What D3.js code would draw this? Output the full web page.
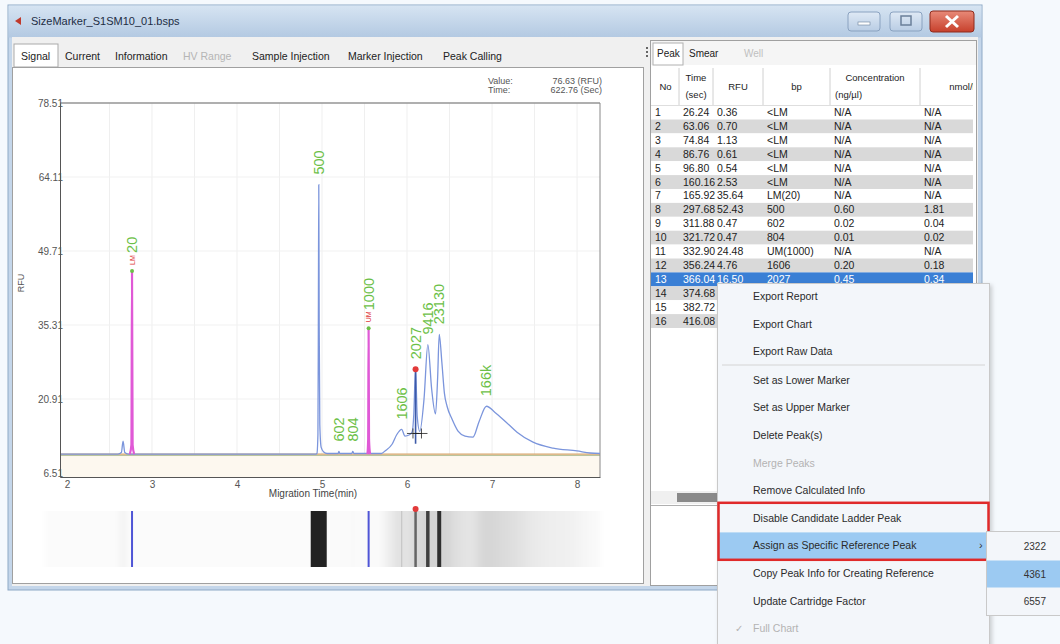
<!DOCTYPE html>
<html><head><meta charset="utf-8">
<script src="https://cdn.jsdelivr.net/npm/d3@7"></script>
<style>
body{margin:0;background:#f5f9fd;}
svg{display:block;font-family:"Liberation Sans",Arial,sans-serif;}
</style></head>
<body><svg id="c" width="1060" height="644"></svg>
<script>
// ---------------- data ----------------
const windowTitle = "SizeMarker_S1SM10_01.bsps";
const leftTabs = ["Signal","Current","Information","HV Range","Sample Injection","Marker Injection","Peak Calling"];
const rightTabs = ["Peak","Smear","Well"];
const yTicks = [6.51, 20.91, 35.31, 49.71, 64.11, 78.51];
const xTicks = [2, 3, 4, 5, 6, 7, 8];
const baselineRFU = 10.2;
const cursorValue = "76.63 (RFU)", cursorTime = "622.76 (Sec)";

// sample signal (blue) : migration time (min) / RFU
const traceTime = [1.92,2.60,2.64,2.66,2.68,2.72,4.93,4.94,4.952,4.957,4.962,4.967,4.974,4.99,5.02,5.06,5.19,5.198,5.21,5.35,5.362,5.375,5.70,5.741,5.824,5.88,5.937,5.976,6.024,6.06,6.08,6.10,6.12,6.15,6.20,6.245,6.29,6.335,6.36,6.379,6.41,6.44,6.471,6.529,6.60,6.682,6.776,6.847,6.935,7.035,7.153,7.294,7.482,7.718,8.0,8.153,8.27];
const traceRFU  = [10.2,10.2,10.5,12.7,10.5,10.2,10.2,10.3,14.0,35.0,62.6,35.0,16.0,11.5,10.6,10.3,10.3,10.7,10.3,10.3,10.7,10.3,10.3,10.8,12.1,14.0,15.0,13.7,13.9,14.5,18.0,26.7,17.5,14.6,20.9,31.5,22.8,18.0,25.0,33.5,28.0,22.0,19.5,17.0,14.65,13.7,13.5,16.5,19.5,18.3,16.6,14.45,12.5,11.35,10.8,10.4,10.3];

// marker signal (pink), null separates the two marker peaks
const markerTime = [2.74,2.758,2.765,2.772,2.79,null,5.535,5.543,5.548,5.553,5.565];
const markerRFU  = [10.2,12.0,45.8,12.0,10.2,null,10.2,13.0,34.7,13.0,10.2];

// peak table
const peakNo   = [1,2,3,4,5,6,7,8,9,10,11,12,13,14,15,16];
const peakTime = ["26.24","63.06","74.84","86.76","96.80","160.16","165.92","297.68","311.88","321.72","332.90","356.24","366.04","374.68","382.72","416.08"];
const peakRFU  = ["0.36","0.70","1.13","0.61","0.54","2.53","35.64","52.43","0.47","0.47","24.48","4.76","16.50","21.30","23.30","9.30"];
const peakBp   = ["<LM","<LM","<LM","<LM","<LM","<LM","LM(20)","500","602","804","UM(1000)","1606","2027","9416","23130","166k"];
const peakConc = ["N/A","N/A","N/A","N/A","N/A","N/A","N/A","0.60","0.02","0.01","N/A","0.20","0.45","0.88","0.95","N/A"];
const peakNmol = ["N/A","N/A","N/A","N/A","N/A","N/A","N/A","1.81","0.04","0.02","N/A","0.18","0.34","0.14","0.06","N/A"];
const selectedPeak = 13;
const selectedBounds = [6.07, 6.17];
const selectedBoundRFU = 14.2;

const menuItems = ["Export Report","Export Chart","Export Raw Data","Set as Lower Marker","Set as Upper Marker","Delete Peak(s)","Merge Peaks","Remove Calculated Info","Disable Candidate Ladder Peak","Assign as Specific Reference Peak","Copy Peak Info for Creating Reference","Update Cartridge Factor","Full Chart"];
const menuDisabled = ["Merge Peaks","Full Chart"];
const subItems = ["2322","4361","6557"];

// ---------------- drawing ----------------
const svg = d3.select("#c");
const defs = svg.append("defs");
const g1 = defs.append("linearGradient").attr("id","title").attr("x1",0).attr("y1",0).attr("x2",0).attr("y2",1);
g1.append("stop").attr("offset",0).attr("stop-color","#d6e4f2");
g1.append("stop").attr("offset",1).attr("stop-color","#b3c9e2");
const g2 = defs.append("linearGradient").attr("id","close").attr("x1",0).attr("y1",0).attr("x2",0).attr("y2",1);
g2.append("stop").attr("offset",0).attr("stop-color","#e88a78");
g2.append("stop").attr("offset",1).attr("stop-color","#c7402c");
const g3 = defs.append("linearGradient").attr("id","btn").attr("x1",0).attr("y1",0).attr("x2",0).attr("y2",1);
g3.append("stop").attr("offset",0).attr("stop-color","#dfe9f5");
g3.append("stop").attr("offset",1).attr("stop-color","#b9cde4");
defs.append("filter").attr("id","blur").attr("x","-5%").attr("width","110%")
  .append("feGaussianBlur").attr("stdDeviation","3 0");
defs.append("filter").attr("id","shadow").append("feDropShadow")
  .attr("dx",2).attr("dy",2).attr("stdDeviation",2).attr("flood-color","#000").attr("flood-opacity",0.18);

svg.append("rect").attr("width",1060).attr("height",644).attr("fill","#f5f9fd");

// window frame
svg.append("rect").attr("x",8).attr("y",5).attr("width",974).attr("height",585).attr("fill","#c4d6ea").attr("stroke","#8ea9c6");
svg.append("rect").attr("x",8.5).attr("y",5.5).attr("width",973).attr("height",32).attr("fill","url(#title)");
svg.append("path").attr("d","M15,21 l6,-4 v8 z").attr("fill","#c0392b");
svg.append("text").attr("x",31).attr("y",25).attr("font-size",11).attr("fill","#1d2d44").text(windowTitle);
// window buttons
svg.append("rect").attr("x",848).attr("y",12).attr("width",32).attr("height",19).attr("rx",3).attr("fill","url(#btn)").attr("stroke","#8aa2c0");
svg.append("rect").attr("x",858).attr("y",22).attr("width",12).attr("height",3).attr("fill","#fff").attr("stroke","#6a7f99").attr("stroke-width",0.6);
svg.append("rect").attr("x",890).attr("y",12).attr("width",32).attr("height",19).attr("rx",3).attr("fill","url(#btn)").attr("stroke","#8aa2c0");
svg.append("rect").attr("x",901).attr("y",16).attr("width",10).attr("height",9).attr("fill","none").attr("stroke","#6a7f99").attr("stroke-width",1.5);
svg.append("rect").attr("x",930).attr("y",11).attr("width",44).attr("height",21).attr("rx",3).attr("fill","url(#close)").attr("stroke","#8e2a1c");
svg.append("path").attr("d","M946,16 l12,11 M958,16 l-12,11").attr("stroke","#fff").attr("stroke-width",3);

// client area
svg.append("rect").attr("x",12).attr("y",37).attr("width",966).attr("height",549).attr("fill","#f0f0f0");

// left tabs
const tabX = [16,60,110,178,247,343,438];
svg.append("rect").attr("x",14).attr("y",44).attr("width",44).attr("height",23).attr("fill","#fff").attr("stroke","#a9a9a9");
leftTabs.forEach((t,i)=>{
  svg.append("text").attr("x",tabX[i]+5).attr("y",60).attr("font-size",10.5)
    .attr("fill", t==="HV Range" ? "#b5b5b5" : "#222").text(t);
});
// left panel
svg.append("rect").attr("x",12.5).attr("y",67.5).attr("width",631).attr("height",516).attr("fill","#fff").attr("stroke","#a0a0a0");

// ---------- chart ----------
const x = d3.scaleLinear().domain([1.918, 8.27]).range([60, 600]);
const y = d3.scaleLinear().domain([5.73, 78.51]).range([477, 103]);
const plot = svg.append("g");

// grid
plot.selectAll(".vg").data(d3.range(2.5, 8.3, 0.5)).join("line")
  .attr("x1",d=>x(d)).attr("x2",d=>x(d)).attr("y1",103).attr("y2",477).attr("stroke","#efefef");
plot.selectAll(".hg").data(yTicks).join("line")
  .attr("x1",60).attr("x2",600).attr("y1",d=>y(d)).attr("y2",d=>y(d)).attr("stroke","#f1f1f1");

// area below baseline
plot.append("rect").attr("x",61).attr("y",y(baselineRFU)).attr("width",539).attr("height",477-y(baselineRFU)).attr("fill","#fdf8ef");
plot.append("line").attr("x1",61).attr("x2",600).attr("y1",y(baselineRFU)+1.5).attr("y2",y(baselineRFU)+1.5).attr("stroke","#b8c49c").attr("stroke-width",1);
plot.append("line").attr("x1",61).attr("x2",600).attr("y1",y(baselineRFU)).attr("y2",y(baselineRFU)).attr("stroke","#d5a56a").attr("stroke-width",1.2);

// frame
plot.append("line").attr("x1",60).attr("x2",600).attr("y1",103).attr("y2",103).attr("stroke","#666");
plot.append("line").attr("x1",600).attr("x2",600).attr("y1",103).attr("y2",477).attr("stroke","#888");

// traces
const trace = traceTime.map((t,i)=>({t, v: traceRFU[i]}));
const marker = markerTime.map((t,i)=>({t, v: markerRFU[i]}));
const line = d3.line().defined(d=>d.t!=null).x(d=>x(d.t)).y(d=>y(d.v)).curve(d3.curveMonotoneX);
plot.append("path").attr("d",line(trace)).attr("fill","none").attr("stroke","#7b95dc").attr("stroke-width",1.3);
plot.append("path").attr("d",line(marker)).attr("fill","none").attr("stroke","#e059d6").attr("stroke-width",2.2);

// peaks
const peaks = peakNo.map((n,i)=>({n, t: +peakTime[i]/60, rfu: +peakRFU[i], bp: peakBp[i], conc: peakConc[i], nmol: peakNmol[i], time: peakTime[i], rfuS: peakRFU[i]}));
const sel = peaks.find(p=>p.n===selectedPeak);
plot.append("line").attr("x1",x(sel.t)).attr("x2",x(sel.t)).attr("y1",y(baselineRFU+2)).attr("y2",y(baselineRFU+sel.rfu))
  .attr("stroke","#3d5aa8").attr("stroke-width",1.6);
selectedBounds.forEach(b=>{
  plot.append("line").attr("x1",x(b)-6).attr("x2",x(b)+6).attr("y1",y(selectedBoundRFU)).attr("y2",y(selectedBoundRFU)).attr("stroke","#222").attr("stroke-width",0.8);
  plot.append("line").attr("x1",x(b)).attr("x2",x(b)).attr("y1",y(selectedBoundRFU)-5).attr("y2",y(selectedBoundRFU)+5).attr("stroke","#222").attr("stroke-width",0.8);
});
plot.append("line").attr("x1",x(selectedBounds[0])).attr("x2",x(selectedBounds[1])).attr("y1",y(selectedBoundRFU)).attr("y2",y(selectedBoundRFU)).attr("stroke","#222").attr("stroke-width",0.8);
plot.append("circle").attr("cx",x(sel.t)).attr("cy",y(baselineRFU+sel.rfu)).attr("r",3).attr("fill","#e23a3a");

const labeled = peaks.filter(p=>p.t>=x.domain()[0] && !p.bp.startsWith("<"));
labeled.forEach(p=>{
  const isMarker = /^(LM|UM)/.test(p.bp);
  const txt = isMarker ? p.bp.replace(/^(LM|UM)\((.*)\)$/,"$2") : p.bp;
  const top = y(baselineRFU + p.rfu);
  const gap = isMarker ? 18 : 10;
  plot.append("text").attr("transform",`translate(${x(p.t)},${top-gap}) rotate(-90)`)
    .attr("dominant-baseline","central").attr("font-size",14.5).attr("fill","#6cbf47").text(txt);
  if(isMarker){
    plot.append("text").attr("transform",`translate(${x(p.t)},${top-6}) rotate(-90)`)
      .attr("dominant-baseline","central").attr("font-size",7).attr("fill","#e0393c").text(p.bp.slice(0,2));
    plot.append("circle").attr("cx",x(p.t)).attr("cy",top).attr("r",2).attr("fill","#6cbf47");
  }
});

// axes
const yAxis = plot.append("g").attr("transform","translate(60,0)")
  .call(d3.axisLeft(y).tickValues(yTicks).tickSize(0).tickPadding(-3).tickFormat(d3.format(".2f")));
yAxis.select(".domain").attr("stroke","#555");
yAxis.selectAll("text").attr("font-size",10).attr("fill","#555").attr("font-family","Liberation Sans, Arial");
const xAxis = plot.append("g").attr("transform","translate(0,477)")
  .call(d3.axisBottom(x).tickValues(xTicks).tickSize(0).tickPadding(4).tickFormat(d3.format("d")));
xAxis.select(".domain").attr("stroke","#555");
xAxis.selectAll("text").attr("font-size",10).attr("fill","#555").attr("font-family","Liberation Sans, Arial");
plot.append("text").attr("x",313).attr("y",497).attr("text-anchor","middle").attr("font-size",10).attr("fill","#444").text("Migration Time(min)");
plot.append("text").attr("transform","translate(24,283) rotate(-90)").attr("text-anchor","middle").attr("font-size",9).attr("fill","#555").text("RFU");
plot.append("text").attr("x",488).attr("y",84).attr("font-size",9).attr("fill","#555").text("Value:");
plot.append("text").attr("x",488).attr("y",93).attr("font-size",9).attr("fill","#555").text("Time:");
plot.append("text").attr("x",602).attr("y",84).attr("text-anchor","end").attr("font-size",9).attr("fill","#555").text(cursorValue);
plot.append("text").attr("x",602).attr("y",93).attr("text-anchor","end").attr("font-size",9).attr("fill","#555").text(cursorTime);

// ---------- gel ----------
const gel = svg.append("g");
const bis = d3.bisector(d=>d.t).left;
function valAt(t){
  if(t<=trace[0].t) return baselineRFU;
  if(t>=trace[trace.length-1].t) return trace[trace.length-1].v;
  const i = bis(trace,t); const a=trace[i-1], b=trace[i];
  return a.v + (b.v-a.v)*(t-a.t)/(b.t-a.t);
}
const smear = d3.scaleLinear().domain([baselineRFU, 11, 14, 20]).range(["#fbfbfb","#f0f0f0","#e2e2e2","#d3d3d3"]).clamp(true);
const gelY0 = 511, gelY1 = 567;
const smearG = gel.append("g").attr("filter","url(#blur)");
d3.range(45, 600).forEach(px=>{
  smearG.append("rect").attr("x",px).attr("y",gelY0).attr("width",1.2).attr("height",gelY1-gelY0).attr("fill",smear(valAt(x.invert(px+0.5))));
});
const bandColor = d3.scaleLinear().domain([0, 6, 25]).range(["#f2f2f2","#b8b8b8","#222"]).clamp(true);
const bandW = d3.scalePow().exponent(2).domain([0, 52.43]).range([1, 16]);
peaks.filter(p=>p.t>=x.domain()[0] && !isNaN(+p.bp) && p.rfu>1).forEach(p=>{
  gel.append("rect").attr("x",x(p.t)-bandW(p.rfu)/2).attr("y",gelY0).attr("width",bandW(p.rfu)).attr("height",gelY1-gelY0).attr("fill",bandColor(p.rfu));
});
peaks.filter(p=>/^(LM|UM)/.test(p.bp)).forEach(p=>{
  gel.append("rect").attr("x",x(p.t)-1).attr("y",gelY0).attr("width",2).attr("height",gelY1-gelY0).attr("fill","#4f55d6");
});
gel.append("circle").attr("cx",x(sel.t)).attr("cy",gelY0-2).attr("r",3).attr("fill","#e23a3a");

// splitter
[47,51,55].forEach(v=>svg.append("rect").attr("x",646).attr("y",v).attr("width",2).attr("height",2).attr("fill","#666"));

// ---------- right panel ----------
svg.append("rect").attr("x",650.5).attr("y",40.5).attr("width",326).attr("height",545).attr("fill","#fff").attr("stroke","#a0a0a0");
svg.append("rect").attr("x",651).attr("y",41).attr("width",325).attr("height",24).attr("fill","#f5f5f5");
svg.append("rect").attr("x",653).attr("y",43).attr("width",30).attr("height",22).attr("fill","#fff").attr("stroke","#b0b0b0");
const rtX=[657,689,744];
rightTabs.forEach((t,i)=>svg.append("text").attr("x",rtX[i]).attr("y",57).attr("font-size",10)
  .attr("fill", t==="Well" ? "#c0c0c0" : "#222").text(t));

const menuTop = 283, menuLeft = 717;
const cols = [652,679,713,763,830,920,1010];
const tab = svg.append("g");
const tdefs = tab.append("defs");
tdefs.append("clipPath").attr("id","tclip").append("rect").attr("x",651).attr("y",66).attr("width",322).attr("height",424);
tdefs.append("clipPath").attr("id","lclip").append("rect").attr("x",651).attr("y",66).attr("width",menuLeft-651).attr("height",424);
const tg = tab.append("g").attr("clip-path","url(#tclip)");
tg.append("rect").attr("x",651).attr("y",66).attr("width",322).attr("height",40).attr("fill","#fff");
cols.slice(1,6).forEach(c=>tg.append("line").attr("x1",c).attr("x2",c).attr("y1",68).attr("y2",105).attr("stroke","#d0d0d0"));
tg.append("line").attr("x1",651).attr("x2",975).attr("y1",105.5).attr("y2",105.5).attr("stroke","#c8c8c8");
const hdr = [["No"],["Time","(sec)"],["RFU"],["bp"],["Concentration","(ng/µl)"],["nmol/l"]];
hdr.forEach((h,i)=>{
  const cx = i===5 ? 962 : (cols[i]+cols[i+1])/2;
  if(h.length===1) tg.append("text").attr("x",cx).attr("y",90).attr("text-anchor","middle").attr("font-size",9.5).attr("fill","#222").text(h[0]);
  else { tg.append("text").attr("x",cx).attr("y",81).attr("text-anchor","middle").attr("font-size",9.5).attr("fill","#222").text(h[0]);
         tg.append("text").attr("x",i===4?cols[i]+5:cx).attr("y",98).attr("text-anchor",i===4?"start":"middle").attr("font-size",9.5).attr("fill","#222").text(h[1]); }
});
const rowH = 13.9, row0 = 105.6;
const lg = tab.append("g").attr("clip-path","url(#lclip)");
peaks.forEach((p,i)=>{
  const ry = row0 + i*rowH;
  const isSel = p.n===selectedPeak;
  const under = ry + 4 > menuTop;          // rows hidden by the context menu
  const grp = under ? lg : tg;
  grp.append("rect").attr("x",651).attr("y",ry).attr("width",324).attr("height",rowH)
    .attr("fill", isSel ? "#3a7fd5" : (p.n%2===0 ? "#d9d9d9" : "#fff"));
  const vals = [String(p.n), p.time, p.rfuS, p.bp, p.conc, p.nmol];
  vals.forEach((v,j)=>{
    if(under && cols[j] >= menuLeft - 6) return;
    grp.append("text").attr("x",cols[j]+(j===0?3:4)).attr("y",ry+rowH-3.5).attr("font-size",10.5)
      .attr("fill", isSel ? "#fff" : "#222").text(v);
  });
});
// scrollbar
svg.append("rect").attr("x",651).attr("y",491).attr("width",324).attr("height",13).attr("fill","#f0f0f0");
svg.append("rect").attr("x",677).attr("y",493).attr("width",40).attr("height",9).attr("fill","#8a8a8a");
svg.append("line").attr("x1",651).attr("x2",975).attr("y1",505.5).attr("y2",505.5).attr("stroke","#b0b0b0");

// ---------- context menu ----------
const menu = svg.append("g");
menu.append("rect").attr("x",menuLeft+0.5).attr("y",menuTop+0.5).attr("width",272).attr("height",380).attr("fill","#f3f6fa").attr("stroke","#c9c9c9").attr("filter","url(#shadow)");
const menuY = i => 296 + i*27.6 + (i>=3 ? 1 : 0);
menu.append("line").attr("x1",722).attr("x2",985).attr("y1",365).attr("y2",365).attr("stroke","#d4d4d4");
const assignIdx = menuItems.indexOf("Assign as Specific Reference Peak");
menu.append("rect").attr("x",719).attr("y",menuY(assignIdx)-13).attr("width",269).attr("height",27).attr("fill","#9ccaf2");
menuItems.forEach((m,i)=>{
  menu.append("text").attr("x",753).attr("y",menuY(i)+4).attr("font-size",10.5)
    .attr("fill", menuDisabled.includes(m) ? "#b3b3b3" : "#2a2a2a").text(m);
});
menu.append("text").attr("x",735).attr("y",menuY(menuItems.length-1)+4).attr("font-size",10).attr("fill","#b3b3b3").text("✓");
menu.append("text").attr("x",979).attr("y",menuY(assignIdx)+4).attr("font-size",11).attr("fill","#333").text("›");
const disIdx = menuItems.indexOf("Disable Candidate Ladder Peak");
menu.append("rect").attr("x",718.5).attr("y",menuY(disIdx)-15).attr("width",270).attr("height",57).attr("fill","none").attr("stroke","#e02a2a").attr("stroke-width",2.5);

// submenu
const sub = svg.append("g");
sub.append("rect").attr("x",986.5).attr("y",531.5).attr("width",80).attr("height",84).attr("fill","#f3f6fa").attr("stroke","#c9c9c9");
subItems.forEach((s,i)=>{
  const sy = 546 + i*27.5;
  if(s==="4361") sub.append("rect").attr("x",987).attr("y",sy-13).attr("width",73).attr("height",27).attr("fill","#9ccaf2");
  sub.append("text").attr("x",1046).attr("y",sy+4).attr("text-anchor","end").attr("font-size",10).attr("fill","#333").text(s);
});
</script></body></html>
